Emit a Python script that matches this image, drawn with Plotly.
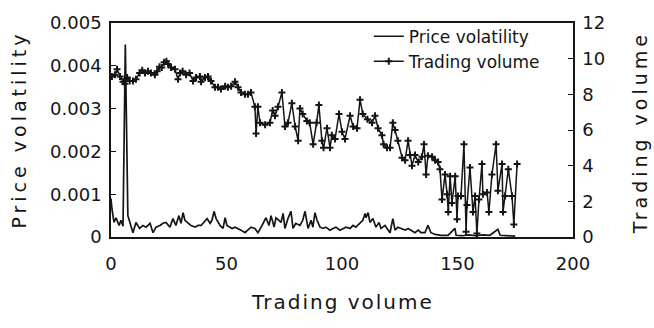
import plotly.graph_objects as go

# Trading volume series (right axis)
vol_x = [0.4, 1.7, 2.6, 3.9, 5.2, 6, 7, 8.1, 9.5, 10.8, 12.4, 13.5, 14.7, 16, 17.3, 19, 20, 21, 22, 23,
         24, 24.7, 26, 27.7, 29, 29.9, 31, 32.5, 34, 35.5, 36.8, 38.5, 39, 40.7, 42, 43.3, 45, 46.3, 47.6,
         49.4, 50.6, 52, 53.7, 55, 56.3, 58, 59.3, 60.6, 62.3, 62.8, 63.6, 64.5, 66.7, 68.8, 70, 71, 72.3,
         74, 75.3, 76.6, 78.3, 79.7, 81, 81.8, 83, 84.8, 86, 87.5, 89, 90, 91.3, 92, 93.5, 94.8, 95.6, 97,
         98.7, 100, 101.3, 103.5, 104.8, 106.5, 107.8, 109, 111, 113, 114.3, 115.6, 117.3, 118, 119.5,
         120.8, 122, 123, 124.2, 126, 127.3, 128.6, 129.4, 130.3, 131.6, 133, 134.6, 135.5, 136.4, 137.2,
         139, 140.3, 141.6, 142.4, 143.3, 144.6, 145.5, 146, 146.8, 147.6, 149, 149.8, 150.2, 151.5, 152.8,
         153.7, 154.1, 155.4, 156.7, 157.6, 158.4, 159.3, 160.6, 161, 162.8, 163.6, 164.9, 166.7, 167.5,
         169.3, 169.7, 170.6, 172, 173.6, 174.4, 175.8]
vol_y = [9.0, 9.1, 9.4, 9.0, 8.7, 8.6, 8.95, 8.75, 8.75, 8.85, 9.2, 9.35, 9.2, 9.3, 9.2, 9.1, 9.3, 9.55, 9.5, 9.8,
         9.85, 9.7, 9.5, 9.4, 8.85, 9.2, 9.3, 9.1, 9.2, 8.75, 8.95, 9.0, 8.7, 8.95, 9.0, 8.75, 8.4, 8.4, 8.3,
         8.45, 8.4, 8.45, 8.7, 8.4, 8.1, 8.0, 8.0, 8.1, 7.3, 5.8, 7.3, 6.4, 6.3, 6.4, 7.1, 6.8, 7.3,
         8.1, 6.2, 6.4, 7.5, 6.2, 5.4, 7.2, 6.9, 6.5, 6.4, 5.2, 6.4, 7.4, 5.4, 5.0, 6.1, 5.0, 5.7, 5.5,
         6.9, 5.9, 5.5, 6.8, 6.2, 6.1, 7.7, 6.9, 6.6, 6.4, 6.8, 6.1, 5.7, 5.2, 5.0,
         5.0, 6.4, 6.0, 5.4, 4.45, 4.3, 5.4, 4.6, 4.0, 4.6, 4.2, 4.5, 5.2, 3.5, 4.55,
         4.5, 4.3, 4.2, 3.8, 2.1, 3.5, 2.4, 1.4, 3.4, 1.9, 3.4, 1.0, 2.3, 2.3, 5.2,
         0.3, 1.8, 3.9, 1.4, 2.3, 0.2, 2.1, 4.1, 2.4, 2.5, 1.4, 3.5, 5.2, 2.6,
         4.1, 1.4, 2.3, 3.8, 2.3, 0.7, 4.1]

# Price volatility series (left axis)
pv_x = [0, 0.4, 1.3, 2.2, 3.5, 4.3, 5.2, 6.2, 7.3, 8.7, 9.5, 10.8, 12.4, 13.8, 15.2, 16.9, 18.2, 19.5, 21.2,
        22.5, 23.8, 25.5, 26.8, 28.1, 29.4, 30.3, 31.2, 32, 33.3, 34.6, 36.4, 37.7, 39, 40.7, 41.6, 42.9,
        43.7, 44.6, 45.5, 47.2, 48.5, 49.4, 50.2, 51.5, 52.4, 53.7, 55, 56.3, 58, 59.3, 60.6, 62.3, 63.6,
        65, 66.2, 67.1, 68.4, 69.3, 70.6, 71.4, 72.7, 73.6, 74.5, 75.3, 76.6, 77.9, 78.8, 80, 81.8, 83, 84,
        85.3, 86.6, 87.4, 88.3, 89.2, 90.5, 91.8, 93, 94.8, 96.1, 97.4, 99.1, 100.4, 101.7, 103.5, 104.8,
        106, 107.8, 109, 110, 110.4, 111.3, 112.1, 113.4, 114.7, 116, 116.9, 118.6, 119.5, 120.8, 122, 123,
        124.2, 125.5, 127.3, 128.6, 129.9, 131.6, 133, 134.2, 135.9, 137.2, 138.5, 140.3, 142.9, 145.9,
        148.9, 149.4, 152, 155, 158, 161, 164, 167.5, 168.5, 171, 175]
pv_y = [0.0009, 0.00066, 0.00034, 0.00045, 0.00027, 0.00039, 0.00025, 0.0045, 0.0005, 0.00023, 0.0001,
        0.00034, 0.0002, 0.00027, 0.00023, 0.00032, 0.0001, 0.00023, 0.00027, 0.00032, 0.00034, 0.00023,
        0.00043, 0.00027, 0.0005, 0.00032, 0.00057, 0.00039, 0.00032, 0.00027, 0.00023, 0.00027, 0.00027,
        0.00039, 0.00043, 0.00032, 0.00039, 0.0006, 0.00043, 0.00027, 0.0002, 0.00045, 0.00027, 0.00023,
        0.0002, 0.00023, 0.0002, 0.00016, 0.0001, 0.00016, 0.00023, 0.0002, 0.0001, 0.00023, 0.00034,
        0.00045, 0.00027, 0.0005, 0.00023, 0.00045, 0.00039, 0.00034, 0.00055, 0.0002, 0.00043, 0.0006,
        0.0002, 0.00032, 0.00027, 0.00039, 0.0006, 0.0002, 0.00039, 0.00023, 0.00057, 0.00039, 0.00023,
        0.0002, 0.00023, 0.00016, 0.0002, 0.00023, 0.00016, 0.0002, 0.00023, 0.0002, 0.00027, 0.00023,
        0.00032, 0.00039, 0.00055, 0.00045, 0.00057, 0.00034, 0.00043, 0.00023, 0.00034, 0.0002, 0.00027,
        0.0002, 0.0001, 0.00043, 0.00016, 0.00023, 0.0002, 0.00016, 0.0002, 0.00016, 0.0001, 0.00016,
        0.0001, 0.0001, 0.00027, 0.0001, 0.00006, 0.00004, 0.00004, 0.0002, 0.00004, 0.00003, 0.00005,
        0.00003, 0.00005, 0.00004, 0.00018, 0.00004, 0.00003, 0.00002]

x_ticks = [0, 50, 100, 150, 200]
pv_ticks = [0, 0.001, 0.002, 0.003, 0.004, 0.005]
pv_tick_text = ["0", "0.001", "0.002", "0.003", "0.004", "0.005"]
vol_ticks = [0, 2, 4, 6, 8, 10, 12]

INK = "#151515"
FONT = "DejaVu Sans"

fig = go.Figure()
fig.add_trace(go.Scatter(
    x=pv_x, y=pv_y, name="Price volatility", mode="lines",
    line=dict(color=INK, width=1.7), yaxis="y"))
fig.add_trace(go.Scatter(
    x=vol_x, y=vol_y, name="Trading volume", mode="lines+markers",
    line=dict(color=INK, width=1.5),
    marker=dict(symbol="cross-thin", size=5, line=dict(color=INK, width=2), color=INK),
    yaxis="y2"))

fig.update_layout(
    width=654, height=328,
    margin=dict(l=111, r=81, t=15, b=91),
    paper_bgcolor="white", plot_bgcolor="white",
    font=dict(family=FONT, size=17, color=INK),
    showlegend=True,
    legend=dict(x=0.558, y=1.02, xanchor="left", yanchor="top",
                bgcolor="rgba(0,0,0,0)", font=dict(size=17, family=FONT, color=INK),
                tracegroupgap=0, itemwidth=30),
    xaxis=dict(range=[0, 200], tickvals=x_ticks, ticks="", showgrid=False, zeroline=False,
               showline=True, linecolor=INK, linewidth=1.5, mirror=True,
               ticklabelstandoff=10, tickfont=dict(size=18)),
    yaxis=dict(range=[0, 0.005], tickvals=pv_ticks, ticktext=pv_tick_text, ticks="inside",
               ticklen=5, tickcolor=INK, showgrid=False, zeroline=False,
               showline=True, linecolor=INK, linewidth=1.5, ticklabelstandoff=4,
               tickfont=dict(size=18)),
    yaxis2=dict(range=[0, 12], tickvals=vol_ticks, ticks="inside", ticklen=5, tickcolor=INK,
                overlaying="y", side="right", showgrid=False, zeroline=False,
                showline=True, linecolor=INK, linewidth=1.5, ticklabelstandoff=4,
                tickfont=dict(size=18)),
)

# Axis titles
fig.add_annotation(text='<span style="letter-spacing:2px">Trading volume</span>',
                   xref="paper", yref="paper", x=0.5, y=-0.24, yanchor="top",
                   showarrow=False, font=dict(size=20, family=FONT, color=INK))
fig.add_annotation(text='<span style="letter-spacing:4px">Price volatility</span>',
                   xref="paper", yref="paper", x=-0.2, y=0.5, textangle=-90,
                   xanchor="center", showarrow=False, font=dict(size=19, family=FONT, color=INK))
fig.add_annotation(text='<span style="letter-spacing:4px">Trading volume</span>',
                   xref="paper", yref="paper", x=1.145, y=0.49, textangle=-90,
                   xanchor="center", showarrow=False, font=dict(size=19, family=FONT, color=INK))

fig.write_html("out.html")
